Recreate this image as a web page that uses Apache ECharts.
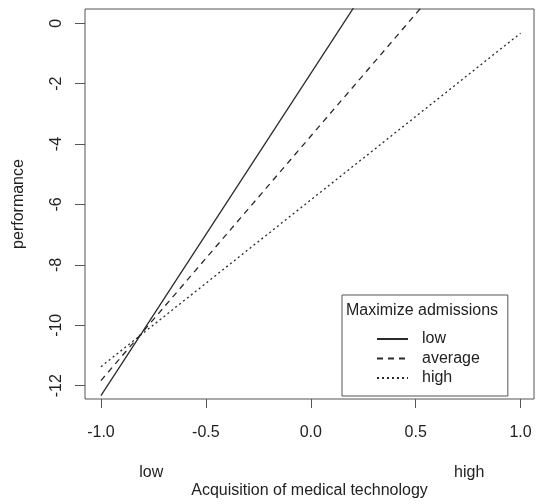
<!DOCTYPE html>
<html>
<head>
<meta charset="utf-8">
<script src="https://cdn.jsdelivr.net/npm/echarts@6/dist/echarts.min.js"></script>
<style>html,body{margin:0;padding:0;background:#fff;}#c{width:536px;height:504px;}</style>
</head>
<body>
<div id="c"></div>
<script>
// Data
const seriesNames = ['low', 'average', 'high'];
const xPoints = [-1, 1];
const lowValues = [-12.33, 9.0];
const averageValues = [-11.83, 4.35];
const highValues = [-11.37, -0.33];
const xTicks = [-1.0, -0.5, 0.0, 0.5, 1.0];
const yTicks = [-12, -10, -8, -6, -4, -2, 0];
const xLevelTicks = [-0.76, 0.755];
const xLevelLabels = ['low', 'high'];
const legendTitle = 'Maximize admissions';
const xTitle = 'Acquisition of medical technology';
const yTitle = 'performance';

const FONT = '"Liberation Sans", Arial, sans-serif';
const TXT = '#222';
const LINE = '#2a2a2a';
const BOX = '#555';

function pairs(vals) { return xPoints.map((x, i) => [x, vals[i]]); }
const dashTypes = ['solid', [6, 5], [2, 3]];
const allValues = [lowValues, averageValues, highValues];

const chart = echarts.init(document.getElementById('c'), null, {renderer: 'canvas'});
chart.setOption({
  backgroundColor: '#fff',
  animation: false,
  title: {
    text: legendTitle,
    left: 346, top: 303, padding: 0,
    textStyle: {fontFamily: FONT, fontSize: 16, fontWeight: 'normal', color: TXT}
  },
  grid: {left: 85, top: 9, width: 449, height: 391, show: true, borderColor: BOX, borderWidth: 1, backgroundColor: 'transparent'},
  xAxis: [{
    type: 'value', min: -1.076, max: 1.064,
    name: xTitle, nameLocation: 'middle', nameGap: 84,
    nameTextStyle: {fontFamily: FONT, fontSize: 16, color: TXT},
    axisLine: {show: false, onZero: false},
    axisTick: {show: true, length: 9, customValues: xTicks, lineStyle: {color: BOX}},
    axisLabel: {customValues: xTicks, margin: 26, fontFamily: FONT, fontSize: 16, color: TXT,
      formatter: v => v.toFixed(1)},
    splitLine: {show: false}
  }, {
    type: 'value', min: -1.076, max: 1.064, position: 'bottom',
    axisLine: {show: false, onZero: false}, axisTick: {show: false}, splitLine: {show: false},
    axisLabel: {customValues: xLevelTicks, margin: 66, fontFamily: FONT, fontSize: 16, color: TXT,
      formatter: v => xLevelLabels[xLevelTicks.indexOf(v)]}
  }],
  yAxis: {
    type: 'value', min: -12.44, max: 0.47,
    name: yTitle, nameLocation: 'middle', nameGap: 58, nameRotate: 90,
    nameTextStyle: {fontFamily: FONT, fontSize: 16, color: TXT},
    axisLine: {show: false, onZero: false},
    axisTick: {show: true, length: 10, customValues: yTicks, lineStyle: {color: BOX}},
    axisLabel: {customValues: yTicks, rotate: 90, margin: 20, fontFamily: FONT, fontSize: 16, color: TXT},
    splitLine: {show: false}
  },
  legend: {
    orient: 'vertical', left: 342, top: 295,
    padding: [36, 28, 10, 34],
    borderColor: BOX, borderWidth: 1,
    itemWidth: 31, itemHeight: 14, itemGap: 3.5,
    itemStyle: {opacity: 0},
    data: seriesNames,
    textStyle: {fontFamily: FONT, fontSize: 16, color: TXT, padding: [0, 0, 0, 9]}
  },
  series: seriesNames.map((n, i) => ({
    name: n, type: 'line', data: pairs(allValues[i]), xAxisIndex: 0,
    symbol: 'none', clip: true,
    lineStyle: {color: LINE, width: 1.3, type: dashTypes[i]},
    itemStyle: {color: LINE}
  }))
});
</script>
</body>
</html>
